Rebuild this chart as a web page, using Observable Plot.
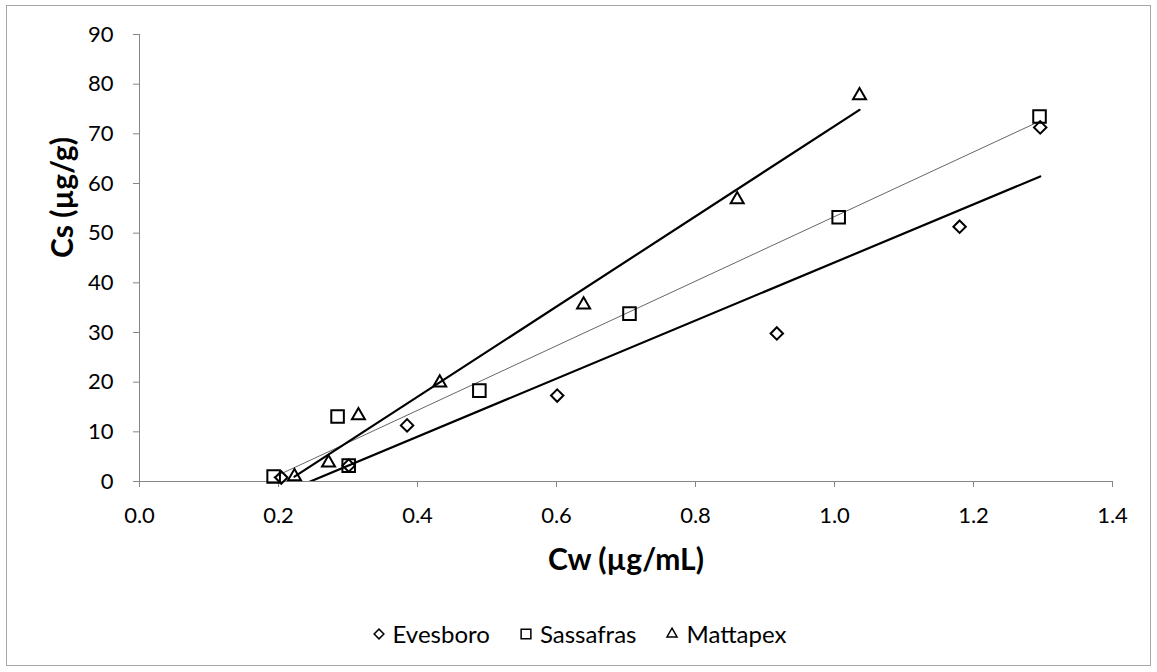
<!DOCTYPE html>
<html>
<head>
<meta charset="utf-8">
<script src="https://cdn.jsdelivr.net/npm/d3@7"></script>
<script src="https://cdn.jsdelivr.net/npm/@observablehq/plot@0.6"></script>
<style>
  html, body { margin: 0; padding: 0; background: #fff; }
  body { width: 1157px; height: 672px; position: relative; font-family: Lato, "Open Sans", sans-serif; }
  #frame { position: absolute; left: 6px; top: 5px; width: 1145px; height: 661px; border: 1px solid #a6a6a6; box-sizing: border-box; }
  #chart { position: absolute; left: 0; top: 0; }
  #legend { position: absolute; left: 0; width: 1157px; top: 619px; display: flex; justify-content: center; align-items: center; gap: 28px; font-size: 24px; color: #000; }
  #legend .item { display: flex; align-items: center; gap: 6px; }
  #legend svg { overflow: visible; }
</style>
</head>
<body>
<div id="frame"></div>
<div id="chart"></div>
<div id="legend"></div>
<script>
// Sorption of each soil: aqueous concentration Cw (µg/mL) vs sorbed concentration Cs (µg/g)
const soils = ["Evesboro", "Sassafras", "Mattapex"];

const evesboroCw = [0.204, 0.301, 0.385, 0.601, 0.917, 1.180, 1.296];
const evesboroCs = [0.8, 3.2, 11.3, 17.3, 29.8, 51.3, 71.3];

const sassafrasCw = [0.193, 0.285, 0.301, 0.489, 0.705, 1.006, 1.295];
const sassafrasCs = [1.0, 13.1, 3.2, 18.3, 33.8, 53.2, 73.5];

const mattapexCw = [0.223, 0.272, 0.315, 0.432, 0.639, 0.860, 1.036];
const mattapexCs = [1.0, 3.8, 13.3, 19.9, 35.6, 56.8, 77.7];

const xTicks = [0, 0.2, 0.4, 0.6, 0.8, 1.0, 1.2, 1.4];
const yTicks = [0, 10, 20, 30, 40, 50, 60, 70, 80, 90];

const series = [
  {soil: "Evesboro", cw: evesboroCw, cs: evesboroCs, symbol: "diamond2", r: 5.6, line: "#000", lineWidth: 2.2},
  {soil: "Sassafras", cw: sassafrasCw, cs: sassafrasCs, symbol: "square2", r: 8.0, line: "#555", lineWidth: 0.9},
  {soil: "Mattapex", cw: mattapexCw, cs: mattapexCs, symbol: "triangle2", r: 6.2, line: "#000", lineWidth: 2.2}
];

const rows = series.flatMap(s => s.cw.map((cw, i) => ({soil: s.soil, cw, cs: s.cs[i]})));

const axisGray = "#868686";
const marks = [
  Plot.ruleY([0], {stroke: axisGray, strokeWidth: 1}),
  Plot.ruleX([0], {stroke: axisGray, strokeWidth: 1}),
  Plot.axisX({ticks: xTicks, tickFormat: d => d.toFixed(1), tickSize: 6, tickPadding: 20,
              stroke: axisGray, fill: "#000", fontSize: 22, label: null}),
  Plot.axisY({ticks: yTicks, tickFormat: d => String(d), tickSize: 6, tickPadding: 20,
              stroke: axisGray, fill: "#000", fontSize: 22, label: null}),
  // least-squares trend line for each soil
  ...series.map(s => Plot.linearRegressionY(rows.filter(d => d.soil === s.soil), {
    x: "cw", y: "cs", ci: 0, stroke: s.line, strokeWidth: s.lineWidth, clip: true
  })),
  // hollow markers for the measurements
  ...series.map(s => Plot.dot(rows.filter(d => d.soil === s.soil), {
    x: "cw", y: "cs", symbol: () => s.symbol, r: s.r, stroke: "#000", strokeWidth: 2, fill: "none"
  })),
  Plot.text(["Cw (µg/mL)"], {frameAnchor: "bottom", dy: 79, lineAnchor: "middle",
    fontSize: 30, fontWeight: "bold", fill: "#000"}),
  Plot.text(["Cs (µg/g)"], {frameAnchor: "left", dx: -76, rotate: -90, lineAnchor: "middle",
    fontSize: 30, fontWeight: "bold", fill: "#000"})
];

const chart = Plot.plot({
  width: 1157,
  height: 600,
  marginLeft: 139,
  marginRight: 45,
  marginTop: 34,
  marginBottom: 119,
  x: {domain: [0, 1.4]},
  y: {domain: [0, 90]},
  symbol: {domain: soils, range: series.map(s => s.symbol)},
  style: {fontFamily: "Lato, 'Open Sans', sans-serif", fontSize: "22px", background: "transparent", color: "#000"},
  marks
});
document.getElementById("chart").appendChild(chart);

// legend below the plot
const legend = d3.select("#legend");
const legendSize = {diamond2: 4.4, square2: 6.2, triangle2: 4.8};
const symbolType = {diamond2: d3.symbolDiamond2, square2: d3.symbolSquare2, triangle2: d3.symbolTriangle2};
for (const s of series) {
  const item = legend.append("div").attr("class", "item");
  const svg = item.append("svg").attr("width", 16).attr("height", 16);
  svg.append("path")
    .attr("transform", "translate(8,8)")
    .attr("d", d3.symbol(symbolType[s.symbol], Math.PI * legendSize[s.symbol] ** 2)())
    .attr("fill", "none").attr("stroke", "#000").attr("stroke-width", 1.5);
  item.append("span").text(s.soil);
}
</script>
</body>
</html>
